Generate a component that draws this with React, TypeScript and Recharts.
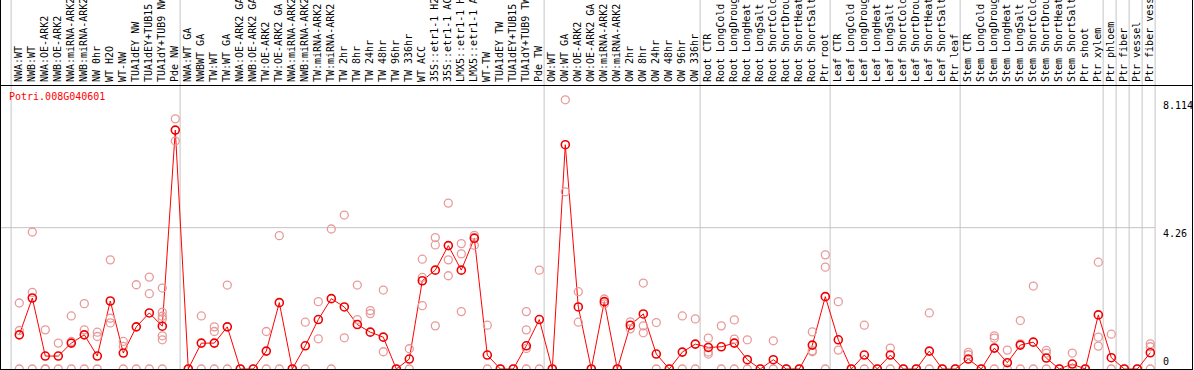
import { ComposedChart, Line, Scatter, XAxis, YAxis, ReferenceLine } from "recharts";

// sample names, left to right
const categories = [
  "NWA:WT", "NWB:WT", "NWA:OE-ARK2", "NWB:OE-ARK2", "NWA:miRNA-ARK2", "NWB:miRNA-ARK2",
  "NW 0hr", "WT H2O", "WT-NW", "TUA1dEY NW", "TUA1dEY+TUB15 NW", "TUA1dY+TUB9 NW", "Pde NW",
  "NWA:WT GA", "NWBWT GA", "TW:WT", "TW:WT GA", "NWA:OE-ARK2 GA", "NWB:OE-ARK2 GA",
  "TW:OE-ARK2", "TW:OE-ARK2 GA", "NWA:miRNA-ARK2 GA", "NWB:miRNA-ARK2 GA", "TW:miRNA-ARK2",
  "TW:miRNA-ARK2 GA", "TW 2hr", "TW 8hr", "TW 24hr", "TW 48hr", "TW 96hr", "TW 336hr",
  "WT ACC", "35S::etr1-1 H2O", "35S::etr1-1 ACC", "LMX5::etr1-1 H2O", "LMX5::etr1-1 ACC",
  "WT-TW", "TUA1dEY TW", "TUA1dEY+TUB15 TW", "TUA1dY+TUB9 TW", "Pde TW",
  "OW:WT", "OW:WT GA", "OW:OE-ARK2", "OW:OE-ARK2 GA", "OW:miRNA-ARK2", "OW:miRNA-ARK2 GA",
  "OW 2hr", "OW 8hr", "OW 24hr", "OW 48hr", "OW 96hr", "OW 336hr",
  "Root CTR", "Root LongCold", "Root LongDrought", "Root LongHeat", "Root LongSalt",
  "Root ShortCold", "Root ShortDrought", "Root ShortHeat", "Root ShortSalt", "Ptr root",
  "Leaf CTR", "Leaf LongCold", "Leaf LongDrought", "Leaf LongHeat", "Leaf LongSalt",
  "Leaf ShortCold", "Leaf ShortDrought", "Leaf ShortHeat", "Leaf ShortSalt", "Ptr leaf",
  "Stem CTR", "Stem LongCold", "Stem LongDrought", "Stem LongHeat", "Stem LongSalt",
  "Stem ShortCold", "Stem ShortDrought", "Stem ShortHeat", "Stem ShortSalt", "Ptr shoot",
  "Ptr xylem", "Ptr phloem", "Ptr fiber", "Ptr vessel", "Ptr fiber vessel",
];

// mean expression per sample
const means = [
  1.03, 2.14, 0.39, 0.39, 0.78, 1.03, 0.39, 2.05, 0.48, 1.27, 1.69, 1.29, 7.2,
  0, 0.78, 0.78, 1.27, 0, 0, 0.54, 2.0, 0,
  0.7, 1.49, 2.12, 1.87, 1.34, 1.11, 0.96, 0, 0.3,
  2.66, 2.98, 3.72, 2.98, 3.94, 0.42, 0, 0, 0.7, 1.49,
  0, 6.76, 1.87, 0, 2.03, 0, 1.32, 1.66, 0.45, 0,
  0.51, 0.75, 0.65, 0.67, 0.78, 0.28, 0, 0.28, 0, 0,
  0.72, 2.18, 0.88, 0, 0.42, 0, 0.42, 0, 0, 0.54,
  0, 0, 0.3, 0, 0.63, 0.19, 0.72, 0.81, 0.33, 0,
  0.15, 0, 1.63, 0.34, 0, 0, 0.49,
];

// individual replicates per sample
const replicates = [
  [1.99, 1.16, 0], [4.13, 2.31, 0], [1.18, 0, 0], [0.78, 0], [1.6, 0.83, 0],
  [1.97, 1.18, 0], [1.11, 0.98, 0], [3.29, 1.53, 1.39], [0.83, 0.68, 0], [2.54, 0],
  [2.77, 2.27, 0], [2.44, 1.71, 1.59, 1.51, 1.0, 0.88, 0], [7.54, 6.87],
  [0], [1.6, 0], [1.27, 1.13, 0], [2.53, 0], [0], [0], [1.13, 0], [4.02, 0], [0],
  [1.41, 0], [2.03, 0.91], [4.22, 0], [4.64, 0.94], [2.53, 1.49], [1.76, 1.67],
  [2.38, 0.52], [0], [0.61, 0],
  [3.31, 2.76, 1.91], [3.96, 3.74, 1.3], [5.0, 3.29, 2.81], [3.78, 3.47, 1.73],
  [4.03, 3.97, 3.73], [1.32, 0], [0], [0], [1.73, 1.18, 0.62, 0], [2.98, 0],
  [0], [8.114, 5.34], [2.33, 1.41], [0], [2.11, 1.96], [0], [1.42, 1.21],
  [2.59, 1.3, 1.09], [1.4, 0], [0],
  [1.6, 0], [1.51, 0], [0.93, 0.51, 0.45], [1.3, 0], [1.48, 0.9, 0], [0.88, 0], [0],
  [0.85, 0], [0], [0],
  [1.12, 0.55, 0.52], [3.44, 3.07, 0], [2.03, 0.57], [0], [1.32, 0], [0], [0.63, 0],
  [0], [0], [1.69, 0],
  [0], [0], [0.5, 0.43], [0], [1.0, 0.93, 0], [0.57, 0], [1.46, 0.76, 0], [2.5, 0],
  [0.56, 0.48, 0], [0],
  [0.48, 0], [0], [3.22, 0.96, 0.69], [1.05, 0], [0], [0], [0.76, 0.67, 0],
];

// first sample index of each tissue group (last entry = end)
const groupStarts = [0, 13, 41, 53, 63, 73, 84, 85, 86, 87, 88];
const yTicks = [0, 4.26, 8.114];
const geneId = "Potri.008G040601";

const W = 1194;
const H = 370;
const YMAX = 8.56;
const Y_TOP = (YMAX * 369) / 284; // value at the very top of the svg
const FONT = "'DejaVu Sans Mono', monospace";

const meanData = means.map((m, i) => ({ x: i, mean: m }));
const repData = replicates.flatMap((r, i) => r.map((v) => ({ x: i, y: v })));

function CategoryTick(props: any) {
  const { x, payload } = props;
  return (
    <text
      transform={`translate(${x + 3},82) rotate(-90)`}
      fontFamily={FONT}
      fontSize={10}
      fill="#000"
      textAnchor="start"
    >
      {categories[payload.value]}
    </text>
  );
}

function ValueTick(props: any) {
  const { y, payload } = props;
  const v = payload.value;
  return (
    <text x={1163} y={v === 0 ? y - 4 : y + 9} fontFamily={FONT} fontSize={10} fill="#000">
      {String(v)}
    </text>
  );
}

function RepDot(props: any) {
  const { cx, cy } = props;
  return <circle cx={cx} cy={cy} r={4} fill="none" stroke="#e99a9a" strokeWidth={1.3} />;
}

export default function App() {
  return (
    <div style={{ position: "absolute", left: 0, top: 0, width: W, height: H, background: "#fff" }}>
      <ComposedChart
        width={W}
        height={H}
        margin={{ top: 0, right: 0, left: 1, bottom: 1 }}
      >
        <XAxis
          xAxisId={0}
          type="number"
          dataKey="x"
          orientation="top"
          height={85}
          domain={[-1.408, 87.36]}
          allowDataOverflow
          ticks={categories.map((_, i) => i)}
          interval={0}
          tick={<CategoryTick />}
          tickLine={false}
          axisLine={false}
        />
        <YAxis
          yAxisId={0}
          type="number"
          orientation="right"
          width={39}
          domain={[0, YMAX]}
          allowDataOverflow
          ticks={yTicks}
          interval={0}
          tick={<ValueTick />}
          tickLine={false}
          axisLine={false}
        />
        <ReferenceLine y={4.26} stroke="#c4c4c4" strokeWidth={1} />
        {groupStarts.map((s) => (
          <ReferenceLine
            key={s}
            ifOverflow="visible"
            segment={[
              { x: s - 0.63, y: 0 },
              { x: s - 0.63, y: Y_TOP },
            ]}
            stroke="#c4c4c4"
            strokeWidth={1}
          />
        ))}
        <Scatter data={repData} dataKey="y" shape={<RepDot />} isAnimationActive={false} />
        <Line
          data={meanData}
          dataKey="mean"
          stroke="#ff0000"
          strokeWidth={1}
          dot={{ r: 4, stroke: "#ee0000", strokeWidth: 1.6, fill: "none" }}
          activeDot={false}
          isAnimationActive={false}
        />
      </ComposedChart>
      {/* frame */}
      <div style={{ position: "absolute", left: 0, top: 0, width: 1, height: H, background: "#000" }} />
      <div style={{ position: "absolute", left: 1192, top: 0, width: 1, height: H, background: "#000" }} />
      <div style={{ position: "absolute", left: 0, top: 85, width: 1193, height: 1, background: "#000" }} />
      <div style={{ position: "absolute", left: 0, top: 369, width: 1193, height: 1, background: "#000" }} />
      <div
        style={{
          position: "absolute",
          left: 9,
          top: 91,
          fontFamily: FONT,
          fontSize: 10,
          lineHeight: "12px",
          color: "#ff0000",
        }}
      >
        {geneId}
      </div>
    </div>
  );
}
